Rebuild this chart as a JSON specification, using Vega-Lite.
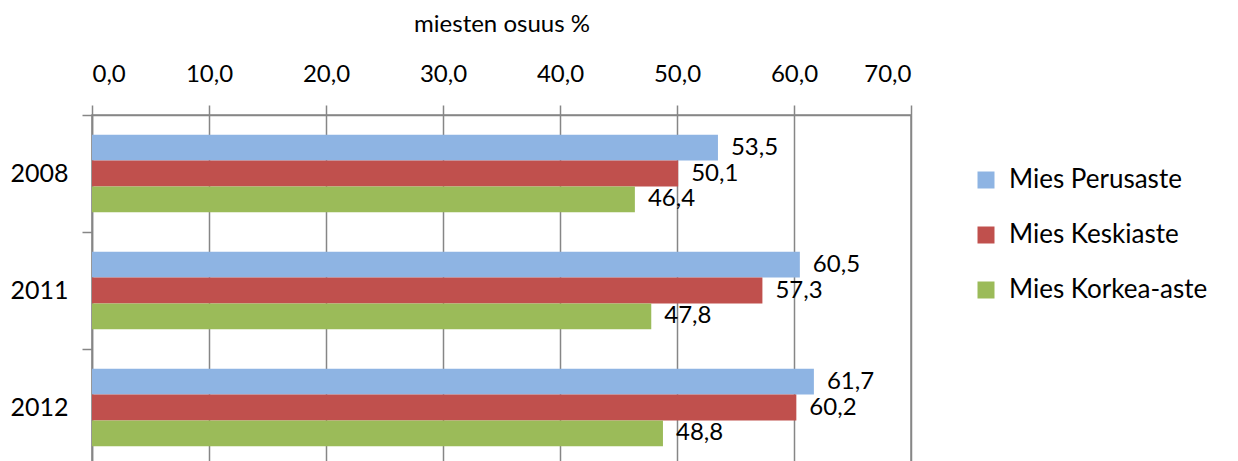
{
  "$schema": "https://vega.github.io/schema/vega-lite/v6.json",
  "width": 819,
  "height": 351,
  "autosize": {"type": "none"},
  "padding": {"left": 92, "top": 115, "right": 327, "bottom": 0},
  "config": {
    "locale": {"number": {"decimal": ",", "thousands": " ", "grouping": [3], "currency": ["", " €"]}},
    "view": {"stroke": "#868686", "strokeWidth": 1.5},
    "font": "Lato"
  },
  "data": {
    "values": [
      {"year": "2008", "series": "Mies Perusaste", "value": 53.5},
      {"year": "2008", "series": "Mies Keskiaste", "value": 50.1},
      {"year": "2008", "series": "Mies Korkea-aste", "value": 46.4},
      {"year": "2011", "series": "Mies Perusaste", "value": 60.5},
      {"year": "2011", "series": "Mies Keskiaste", "value": 57.3},
      {"year": "2011", "series": "Mies Korkea-aste", "value": 47.8},
      {"year": "2012", "series": "Mies Perusaste", "value": 61.7},
      {"year": "2012", "series": "Mies Keskiaste", "value": 60.2},
      {"year": "2012", "series": "Mies Korkea-aste", "value": 48.8}
    ]
  },
  "encoding": {
    "y": {
      "field": "year", "type": "nominal",
      "scale": {"paddingInner": 0, "paddingOuter": 0},
      "axis": {
        "title": null, "tickBand": "extent", "tickSize": 10, "tickColor": "#868686", "tickWidth": 1.5,
        "grid": false,
        "domain": true, "domainColor": "#868686", "domainWidth": 1.5, "labelFontSize": 25, "labelColor": "#000000",
        "labelPadding": 14, "labelFont": "Lato"
      }
    },
    "yOffset": {
      "field": "series", "sort": ["Mies Perusaste", "Mies Keskiaste", "Mies Korkea-aste"],
      "scale": {"paddingInner": 0, "paddingOuter": 0.77}
    },
    "x": {
      "field": "value", "type": "quantitative",
      "scale": {"domain": [0, 70], "nice": false},
      "axis": {
        "orient": "top", "values": [0, 10, 20, 30, 40, 50, 60, 70], "format": ".1f",
        "title": "miesten osuus %", "titleFontSize": 24, "titleFontWeight": "normal", "titleColor": "#000000",
        "titlePadding": 26,
        "labelFontSize": 24, "labelColor": "#000000", "labelPadding": 19,
        "tickSize": 10, "tickColor": "#868686", "tickWidth": 1.5,
        "domain": true, "domainColor": "#868686", "domainWidth": 1.5,
        "grid": true, "gridColor": "#868686", "gridWidth": 1.5
      }
    }
  },
  "layer": [
    {
      "mark": {"type": "bar"},
      "encoding": {
        "color": {
          "field": "series", "type": "nominal",
          "sort": ["Mies Perusaste", "Mies Keskiaste", "Mies Korkea-aste"],
          "scale": {"domain": ["Mies Perusaste", "Mies Keskiaste", "Mies Korkea-aste"], "range": ["#8EB4E3", "#C0504D", "#9BBB59"]},
          "legend": {
            "title": null, "orient": "none", "legendX": 881, "legendY": 52, "padding": 0,
            "symbolType": "square", "symbolSize": 289, "symbolStrokeWidth": 0,
            "labelFontSize": 26, "labelColor": "#000000", "labelOffset": 10, "rowPadding": 29, "labelLimit": 0, "labelFont": "Lato"
          }
        }
      }
    },
    {
      "mark": {"type": "text", "align": "left", "baseline": "middle", "dx": 13, "fontSize": 24, "color": "#000000"},
      "encoding": {
        "text": {"field": "value", "type": "quantitative", "format": ".1f"}
      }
    }
  ]
}
